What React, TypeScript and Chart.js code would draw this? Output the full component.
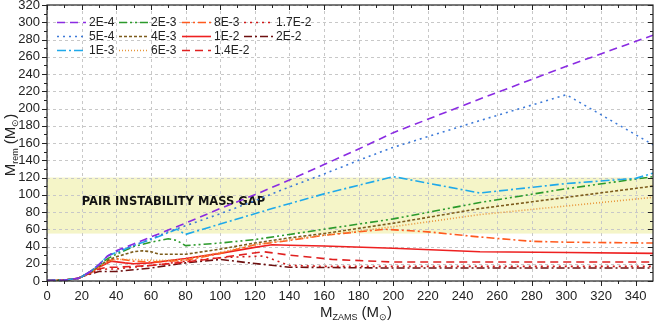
import React, { useEffect, useRef } from 'react';
import { Chart, registerables } from 'chart.js';

Chart.register(...registerables);

// ---------- data ----------
const X_TICKS = [0, 20, 40, 60, 80, 100, 120, 140, 160, 180, 200, 220, 240, 260, 280, 300, 320, 340];
const Y_TICKS = [0, 20, 40, 60, 80, 100, 120, 140, 160, 180, 200, 220, 240, 260, 280, 300, 320];
const X_MAX = 350;
const Y_MAX = 320;
const GAP_LOW = 55;
const GAP_HIGH = 120;
const GAP_LABEL = 'PAIR INSTABILITY MASS GAP';
const GAP_LABEL_AT = [20, 91.5];

const LABELS = ['2E-4', '5E-4', '1E-3', '2E-3', '4E-3', '6E-3', '8E-3', '1E-2', '1.4E-2', '1.7E-2', '2E-2'];

const S_2E4: [number, number][] = [[0, 0.5], [10, 1], [18, 3], [20, 5], [25, 11], [30, 19], [35, 29], [40, 35], [50, 43], [60, 51], [70, 59], [80, 67], [100, 84], [120, 100], [140, 117], [160, 135], [180, 153], [200, 172], [250, 211], [300, 249], [350, 285]];
const S_5E4: [number, number][] = [[0, 0.5], [10, 1], [18, 3], [20, 5], [25, 11], [30, 19], [35, 29], [40, 34], [50, 41], [60, 49], [70, 57], [80, 64], [100, 78], [120, 93], [140, 109], [160, 124], [180, 140], [200, 155], [250, 186], [300, 216], [350, 158]];
const S_1E3: [number, number][] = [[0, 0.5], [10, 1], [18, 3], [20, 5], [25, 11], [30, 19], [35, 29], [40, 33], [50, 41], [60, 48], [70, 56], [75, 60], [80, 54], [100, 66], [130, 84], [160, 101], [200, 121], [250, 102], [300, 113], [340, 119], [350, 125]];
const S_2E3: [number, number][] = [[0, 0.5], [10, 1], [18, 3], [20, 5], [25, 11], [30, 18], [35, 26], [40, 31], [50, 40], [60, 45], [70, 49], [75, 47], [80, 41], [100, 44], [120, 48], [140, 54], [160, 60], [180, 66], [200, 72], [250, 91], [300, 107], [350, 121]];
const S_4E3: [number, number][] = [[0, 0.5], [10, 1], [18, 3], [20, 5], [25, 10], [30, 17], [35, 24], [40, 28], [50, 34], [55, 35], [60, 34], [65, 31], [80, 31], [100, 37], [120, 44], [140, 50], [160, 55], [180, 61], [200, 67], [250, 84], [300, 97], [350, 110]];
const S_6E3: [number, number][] = [[0, 0.5], [10, 1], [18, 3], [20, 5], [25, 10], [30, 16], [35, 22], [40, 25], [50, 25], [60, 24], [70, 24], [80, 25], [100, 33], [120, 42], [140, 48], [160, 53], [180, 58], [200, 63], [250, 77], [300, 87], [350, 97]];
const S_8E3: [number, number][] = [[0, 0.5], [10, 1], [18, 3], [20, 5], [25, 10], [30, 16], [35, 23], [40, 26], [50, 23], [60, 22], [80, 24], [100, 32], [120, 42], [140, 47], [160, 53], [180, 57], [195, 60], [220, 57], [250, 51], [280, 46], [300, 45], [350, 44]];
const S_1E2: [number, number][] = [[0, 0.5], [10, 1], [18, 3], [20, 5], [25, 10], [30, 16], [37, 23], [45, 21], [50, 20], [60, 21], [80, 26], [100, 32], [120, 39], [130, 42], [140, 41.5], [160, 40.5], [200, 38], [250, 34], [300, 33], [350, 32]];
const S_14E2: [number, number][] = [[0, 0.5], [10, 1], [18, 3], [20, 5], [25, 9], [30, 14], [35, 16], [40, 16], [50, 17], [60, 18], [80, 22], [100, 27], [125, 34], [140, 30], [165, 25], [200, 22], [250, 22], [300, 22], [350, 22]];
const S_17E2: [number, number][] = [[0, 0.5], [10, 1], [18, 3], [20, 5], [25, 9], [30, 13], [35, 14], [40, 14], [50, 16], [60, 18], [80, 23], [100, 27], [125, 29], [140, 18], [160, 17], [200, 17], [350, 17]];
const S_2E2: [number, number][] = [[0, 0.5], [10, 1], [18, 3], [20, 5], [25, 8], [30, 11], [35, 11], [40, 11], [50, 13], [60, 15], [80, 21], [100, 25], [117, 21], [140, 16], [200, 15], [350, 15]];

const SERIES = [S_2E4, S_5E4, S_1E3, S_2E3, S_4E3, S_6E3, S_8E3, S_1E2, S_14E2, S_17E2, S_2E2];

// ---------- styles ----------
const COLORS = ['#8a2be2', '#3d7ad8', '#1fa9ea', '#2b9a2b', '#7d5c1c', '#e8963a', '#ff5a1e', '#ee2020', '#e02020', '#d01818', '#6e1010'];
const DASHES: number[][] = [
  [8, 5],
  [2, 4],
  [9, 3, 2, 3],
  [8, 3, 2, 3, 2, 3],
  [3, 2],
  [1, 2],
  [8, 3, 2, 3],
  [],
  [8, 5],
  [2, 4],
  [8, 3, 2, 3],
];
const FONT = "'Liberation Sans', Arial, sans-serif";

const LEGEND_COL_X = [57, 119, 182, 244];
const LEGEND_ROW_Y = [22, 36, 50];

function drawRich(ctx: CanvasRenderingContext2D, parts: { t: string; size: number; dy: number }[], cx: number, by: number) {
  let total = 0;
  for (const p of parts) {
    ctx.font = `${p.size}px ${FONT}`;
    total += ctx.measureText(p.t).width;
  }
  let xx = cx - total / 2;
  ctx.textAlign = 'left';
  ctx.textBaseline = 'alphabetic';
  for (const p of parts) {
    ctx.font = `${p.size}px ${FONT}`;
    ctx.fillText(p.t, xx, by + p.dy);
    xx += ctx.measureText(p.t).width;
  }
}

const decorPlugin = {
  id: 'decor',
  beforeDatasetsDraw(chart: any) {
    const { ctx, chartArea: a, scales } = chart;
    const x = scales.x, y = scales.y;
    ctx.save();
    const yTop = y.getPixelForValue(GAP_HIGH);
    const yBot = y.getPixelForValue(GAP_LOW);
    ctx.fillStyle = '#f5f5c8';
    ctx.fillRect(a.left, yTop, a.right - a.left, yBot - yTop);

    ctx.strokeStyle = '#c8c8c8';
    ctx.lineWidth = 1;
    ctx.setLineDash([3, 3]);
    for (const v of X_TICKS) {
      const px = Math.round(x.getPixelForValue(v)) + 0.5;
      ctx.beginPath();
      ctx.moveTo(px, a.top);
      ctx.lineTo(px, a.bottom);
      ctx.stroke();
    }
    for (const v of Y_TICKS) {
      const py = Math.round(y.getPixelForValue(v)) + 0.5;
      ctx.beginPath();
      ctx.moveTo(a.left, py);
      ctx.lineTo(a.right, py);
      ctx.stroke();
    }
    ctx.setLineDash([]);

    ctx.font = "bold 11.5px 'DejaVu Sans', sans-serif";
    ctx.fillStyle = '#111';
    ctx.textAlign = 'left';
    ctx.textBaseline = 'middle';
    ctx.fillText(GAP_LABEL, x.getPixelForValue(GAP_LABEL_AT[0]), y.getPixelForValue(GAP_LABEL_AT[1]));
    ctx.restore();
  },
  afterDatasetsDraw(chart: any) {
    const { ctx, chartArea: a, scales } = chart;
    const x = scales.x, y = scales.y;
    ctx.save();
    // frame
    ctx.strokeStyle = '#222';
    ctx.lineWidth = 1.2;
    ctx.setLineDash([]);
    ctx.strokeRect(a.left, a.top, a.right - a.left, a.bottom - a.top);
    // ticks
    ctx.lineWidth = 1;
    for (let v = 0; v < X_MAX; v += 10) {
      const px = Math.round(x.getPixelForValue(v)) + 0.5;
      const len = v % 20 === 0 ? 5 : 3;
      ctx.beginPath();
      ctx.moveTo(px, a.bottom);
      ctx.lineTo(px, a.bottom + len);
      ctx.moveTo(px, a.top);
      ctx.lineTo(px, a.top + len);
      ctx.stroke();
    }
    for (let v = 0; v <= Y_MAX; v += 10) {
      const py = Math.round(y.getPixelForValue(v)) + 0.5;
      const len = v % 20 === 0 ? 5 : 3;
      ctx.beginPath();
      ctx.moveTo(a.left, py);
      ctx.lineTo(a.left - len, py);
      ctx.moveTo(a.right, py);
      ctx.lineTo(a.right - len, py);
      ctx.stroke();
    }
    // legend
    LABELS.forEach((lab, i) => {
      const col = Math.floor(i / 3), row = i % 3;
      const x0 = LEGEND_COL_X[col], yy = LEGEND_ROW_Y[row];
      ctx.strokeStyle = COLORS[i];
      ctx.lineWidth = 1.6;
      ctx.setLineDash(DASHES[i]);
      ctx.beginPath();
      ctx.moveTo(x0, yy + 0.5);
      ctx.lineTo(x0 + 29, yy + 0.5);
      ctx.stroke();
      ctx.setLineDash([]);
      ctx.fillStyle = '#222';
      ctx.font = `12px ${FONT}`;
      ctx.textAlign = 'left';
      ctx.textBaseline = 'middle';
      ctx.fillText(lab, x0 + 32, yy + 1);
    });
    // axis titles
    ctx.fillStyle = '#222';
    drawRich(ctx, [
      { t: 'M', size: 15, dy: 0 },
      { t: 'ZAMS', size: 9, dy: 3 },
      { t: ' (M', size: 15, dy: 0 },
      { t: '\u2299', size: 9, dy: 3 },
      { t: ')', size: 15, dy: 0 },
    ], 356, 317);
    ctx.save();
    ctx.translate(10, 145);
    ctx.rotate(-Math.PI / 2);
    drawRich(ctx, [
      { t: 'M', size: 15, dy: 0 },
      { t: 'rem', size: 9, dy: 3 },
      { t: ' (M', size: 15, dy: 0 },
      { t: '\u2299', size: 9, dy: 3 },
      { t: ')', size: 15, dy: 0 },
    ], 0, 5);
    ctx.restore();
    ctx.restore();
  },
};

export default function App() {
  const ref = useRef<HTMLCanvasElement | null>(null);
  useEffect(() => {
    document.body.style.margin = '0';
    const canvas = ref.current;
    if (!canvas) return;
    const chart = new Chart(canvas, {
      type: 'line',
      data: {
        datasets: SERIES.map((s, i) => ({
          label: LABELS[i],
          data: s.map(([xv, yv]) => ({ x: xv, y: yv })),
          borderColor: COLORS[i],
          backgroundColor: COLORS[i],
          borderDash: DASHES[i],
          borderWidth: 1.6,
          pointRadius: 0,
          tension: 0,
          fill: false,
        })),
      },
      options: {
        animation: false,
        responsive: false,
        devicePixelRatio: 1,
        layout: { padding: { left: 0, right: 2, top: 5, bottom: 0 } },
        plugins: { legend: { display: false }, tooltip: { enabled: false } },
        scales: {
          x: {
            type: 'linear',
            min: 0,
            max: X_MAX,
            grid: { display: false, drawTicks: false },
            border: { display: false },
            ticks: { padding: 8, color: '#222', autoSkip: false, font: { family: FONT, size: 13 }, maxRotation: 0 },
            afterBuildTicks: (scale: any) => { scale.ticks = X_TICKS.map((v) => ({ value: v })); },
            afterFit: (scale: any) => { scale.height = 41; scale.paddingLeft = 0; scale.paddingRight = 0; },
          },
          y: {
            type: 'linear',
            min: 0,
            max: Y_MAX,
            grid: { display: false, drawTicks: false },
            border: { display: false },
            ticks: { padding: 7, color: '#222', autoSkip: false, font: { family: FONT, size: 13 } },
            afterBuildTicks: (scale: any) => { scale.ticks = Y_TICKS.map((v) => ({ value: v })); },
            afterFit: (scale: any) => { scale.width = 47; scale.paddingTop = 0; scale.paddingBottom = 0; },
          },
        },
      } as any,
      plugins: [decorPlugin],
    });
    return () => chart.destroy();
  }, []);
  return (
    <div style={{ position: 'absolute', left: 0, top: 0, width: 655, height: 322 }}>
      <canvas ref={ref} width={655} height={322} style={{ display: 'block', width: 655, height: 322 }} />
    </div>
  );
}
